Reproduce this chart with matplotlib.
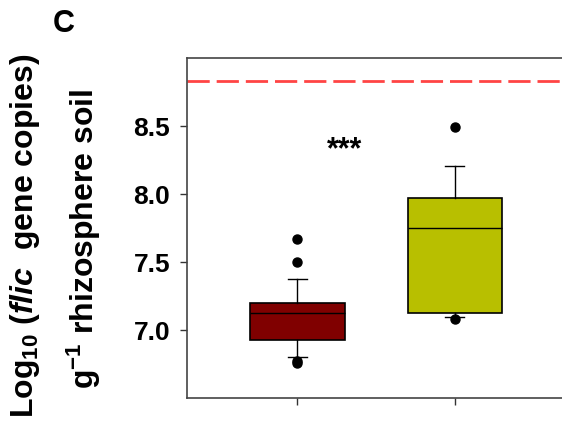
import matplotlib
matplotlib.use("Agg")
import matplotlib.pyplot as plt

plt.rcParams['font.family'] = 'Liberation Sans'
plt.rcParams['font.weight'] = 'bold'
plt.rcParams['mathtext.fontset'] = 'custom'
plt.rcParams['mathtext.rm'] = 'Liberation Sans:bold'
plt.rcParams['mathtext.it'] = 'Liberation Sans:bold:italic'
plt.rcParams['mathtext.bf'] = 'Liberation Sans:bold'

# box summary values
groups = ['control', 'treated']
positions = [1, 2]
q1 = [6.924, 7.127]
med = [7.127, 7.747]
q3 = [7.200, 7.968]
whislo = [6.804, 7.093]
whishi = [7.372, 8.206]
fliers = [[7.671, 7.502, 6.769, 6.760], [8.493, 7.083]]
box_colors = ['#800000', '#b8bf00']
ref_line = 8.83
signif = '***'

stats = []
for i in range(len(groups)):
    stats.append(dict(label=groups[i], q1=q1[i], med=med[i], q3=q3[i],
                      whislo=whislo[i], whishi=whishi[i], fliers=fliers[i]))

fig = plt.figure(figsize=(5.62, 4.25), dpi=100)
# axes right edge runs past the figure like in the original
ax = fig.add_axes([187/562, 27/425, 378/562, 340/425])

bp = ax.bxp(stats, positions=positions, widths=0.6, patch_artist=True,
            capwidths=0.12,
            boxprops=dict(edgecolor='black', linewidth=1.2),
            medianprops=dict(color='black', linewidth=1),
            whiskerprops=dict(color='black', linewidth=1),
            capprops=dict(color='black', linewidth=1),
            flierprops=dict(marker='o', markerfacecolor='black',
                            markeredgecolor='black', markersize=6.5))
for patch, c in zip(bp['boxes'], box_colors):
    patch.set_facecolor(c)

ax.axhline(ref_line, color='#ff4444', linestyle=(0, (8, 2.5)), linewidth=2)
ax.text(1.30, 8.32, signif, ha='center', va='center', fontsize=22,
        fontweight='bold')

ax.set_xlim(0.3, 2.7)
ax.set_ylim(6.5, 9.0)
ax.set_yticks([7.0, 7.5, 8.0, 8.5])
ax.set_yticklabels(['7.0', '7.5', '8.0', '8.5'])
ax.set_xticks(positions)
ax.set_xticklabels(['', ''])
ax.tick_params(direction='out', length=5, width=1, color='#333333',
               labelsize=19, pad=7)
for s in ['left', 'bottom', 'top']:
    ax.spines[s].set_color('#444444')
    ax.spines[s].set_linewidth(1.2)
ax.spines['right'].set_visible(False)

fig.text(25/562, 1 - 236/425, 'Log$_{10}$ ($flic$  gene copies)',
         rotation=90, ha='center', va='center', fontsize=23)
fig.text(84/562, 1 - 239/425, 'g$^{-1}$ rhizosphere soil',
         rotation=90, ha='center', va='center', fontsize=23)
fig.text(64/562, 1 - 24/425, 'C', ha='center', va='center', fontsize=22)

fig.savefig('out.png', dpi=100)
